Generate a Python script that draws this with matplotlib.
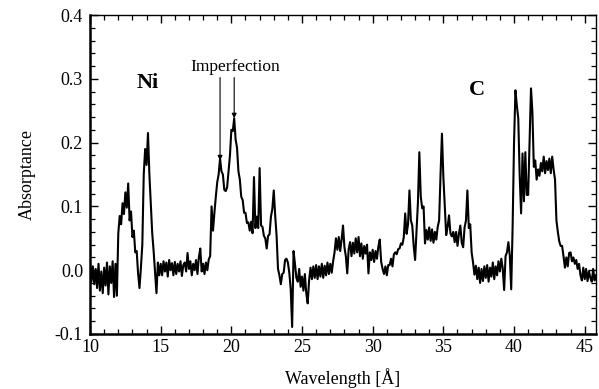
import numpy as np
import matplotlib
matplotlib.use('Agg')
import matplotlib.pyplot as plt
from matplotlib.ticker import MultipleLocator, FormatStrFormatter

absorptance = [
    0.010, -0.018, 0.006, -0.022, 0.002, -0.028, 0.010, -0.032, -0.002, -0.036,    # 10
    0.004, -0.024, 0.012, -0.038, 0.006, -0.020, 0.014, -0.042, 0.010, -0.040,     # 11
    0.058, 0.085, 0.072, 0.105, 0.088, 0.122, 0.098, 0.136, 0.078, 0.092,          # 12
    0.052, 0.062, 0.028, 0.030, -0.005, -0.028, 0.004, 0.040, 0.150, 0.190,        # 13
    0.165, 0.215, 0.150, 0.105, 0.058, 0.030, -0.004, -0.036, 0.012, -0.008,       # 14
    0.010, -0.008, 0.014, -0.002, 0.012, -0.010, 0.016, 0.000, 0.011, -0.008,      # 15
    0.013, -0.006, 0.010, -0.002, 0.014, -0.009, 0.008, 0.012, -0.002, 0.027,      # 16
    0.002, 0.014, -0.008, 0.010, 0.000, 0.016, -0.006, 0.020, 0.034, -0.002,       # 17
    0.010, -0.006, 0.012, 0.000, 0.017, 0.022, 0.100, 0.062, 0.090, 0.115,         # 18
    0.138, 0.150, 0.175, 0.155, 0.150, 0.126, 0.124, 0.130, 0.155, 0.180,          # 19
    0.220, 0.218, 0.238, 0.205, 0.192, 0.155, 0.142, 0.115, 0.110, 0.090,          # 20
    0.090, 0.074, 0.075, 0.062, 0.076, 0.058, 0.146, 0.066, 0.084, 0.066,          # 21
    0.160, 0.070, 0.068, 0.054, 0.050, 0.034, 0.054, 0.056, 0.084, 0.096,          # 22
    0.125, 0.086, 0.054, 0.002, -0.008, -0.022, -0.006, -0.004, 0.016, 0.018,      # 23
    0.012, -0.004, -0.030, -0.089, 0.030, 0.010, -0.012, -0.018, 0.002, -0.026,    # 24
    -0.010, -0.032, -0.006, -0.036, -0.052, -0.016, 0.004, -0.014, 0.006, -0.012,  # 25
    0.008, -0.014, 0.006, -0.010, 0.010, -0.012, 0.007, -0.008, 0.012, -0.006,     # 26
    0.010, -0.004, 0.014, 0.028, 0.050, 0.032, 0.052, 0.030, 0.048, 0.070,         # 27
    0.036, 0.022, -0.005, 0.033, 0.044, 0.022, 0.043, 0.026, 0.050, 0.028,         # 28
    0.052, 0.022, 0.042, 0.018, 0.038, 0.026, 0.040, -0.005, 0.028, 0.016,         # 29
    0.032, 0.013, 0.030, 0.018, 0.037, 0.048, 0.013, 0.002, -0.006, 0.006,         # 30
    -0.008, 0.008, 0.008, 0.018, 0.006, 0.025, 0.028, 0.025, 0.033, 0.034,         # 31
    0.042, 0.040, 0.052, 0.089, 0.057, 0.072, 0.125, 0.078, 0.070, 0.038,          # 32
    0.016, 0.062, 0.106, 0.185, 0.116, 0.097, 0.100, 0.042, 0.063, 0.048,          # 33
    0.067, 0.046, 0.064, 0.043, 0.060, 0.048, 0.068, 0.078, 0.150, 0.214,          # 34
    0.146, 0.102, 0.055, 0.068, 0.086, 0.058, 0.053, 0.060, 0.044, 0.060,          # 35
    0.038, 0.057, 0.070, 0.043, 0.036, 0.067, 0.078, 0.125, 0.066, 0.072,          # 36
    0.028, 0.012, -0.007, 0.007, -0.014, 0.004, -0.020, 0.002, -0.017, 0.006,      # 37
    -0.012, 0.008, -0.018, 0.004, -0.010, 0.012, -0.014, 0.006, -0.008, 0.014,     # 38
    -0.002, 0.018, 0.003, -0.031, 0.022, 0.028, 0.044, 0.023, -0.030, 0.068,       # 39
    0.200, 0.282, 0.258, 0.238, 0.148, 0.089, 0.183, 0.108, 0.185, 0.118,          # 40
    0.118, 0.200, 0.285, 0.248, 0.162, 0.172, 0.142, 0.158, 0.148, 0.168,          # 41
    0.155, 0.178, 0.152, 0.171, 0.157, 0.175, 0.152, 0.178, 0.158, 0.142,          # 42
    0.078, 0.060, 0.045, 0.038, 0.038, 0.022, 0.004, 0.020, 0.006, 0.027,          # 43
    0.028, 0.014, 0.020, 0.010, 0.016, 0.002, 0.010, -0.008, -0.016, 0.004,        # 44
    -0.014, 0.002, -0.017, -0.002, -0.012, -0.018, 0.002, -0.016, -0.008,          # 45
]
wavelength = np.round(10.0 + 0.1 * np.arange(len(absorptance)), 1)

# arrow targets for the "Imperfection" label
imperf_x = [19.2, 20.2]
imperf_y = [0.172, 0.238]

plt.rcParams['font.family'] = ['Liberation Serif', 'DejaVu Serif']

fig = plt.figure(figsize=(5.99, 3.89), dpi=100)
ax = fig.add_axes([0.1503, 0.1414, 0.8447, 0.82])

ax.plot(wavelength, absorptance, color='black', lw=1.5)

ax.set_xlim(10, 45.8)
ax.set_ylim(-0.1, 0.4)
ax.xaxis.set_major_locator(MultipleLocator(5))
ax.xaxis.set_minor_locator(MultipleLocator(1))
ax.yaxis.set_major_locator(MultipleLocator(0.1))
ax.yaxis.set_minor_locator(MultipleLocator(0.02))
ax.yaxis.set_major_formatter(FormatStrFormatter('%.1f'))
ax.tick_params(which='both', direction='in', top=True, right=True,
               labelsize=13, color='black')
ax.tick_params(axis='y', pad=5)
ax.tick_params(which='major', length=6, width=1.0)
ax.tick_params(which='minor', length=3.5, width=0.9)

for side in ['left', 'bottom']:
    ax.spines[side].set_linewidth(1.8)
for side in ['top', 'right']:
    ax.spines[side].set_linewidth(1.0)

ax.set_xlabel('Wavelength [Å]', fontsize=13, labelpad=9)
ax.set_ylabel('Absorptance', fontsize=13, labelpad=14)

ax.text(14.1, 0.293, 'Ni', fontsize=16, fontweight='bold', ha='center', va='center')
ax.text(37.4, 0.283, 'C', fontsize=16, fontweight='bold', ha='center', va='center')
ax.text(20.3, 0.318, 'Imperfection', fontsize=12.5, ha='center', va='center')
for xi, yi in zip(imperf_x, imperf_y):
    ax.annotate('', xy=(xi, yi), xytext=(xi, 0.302),
                arrowprops=dict(arrowstyle='-|>', color='black', lw=0.8,
                                mutation_scale=7, shrinkA=0, shrinkB=0))

fig.savefig('out.png', dpi=100)
